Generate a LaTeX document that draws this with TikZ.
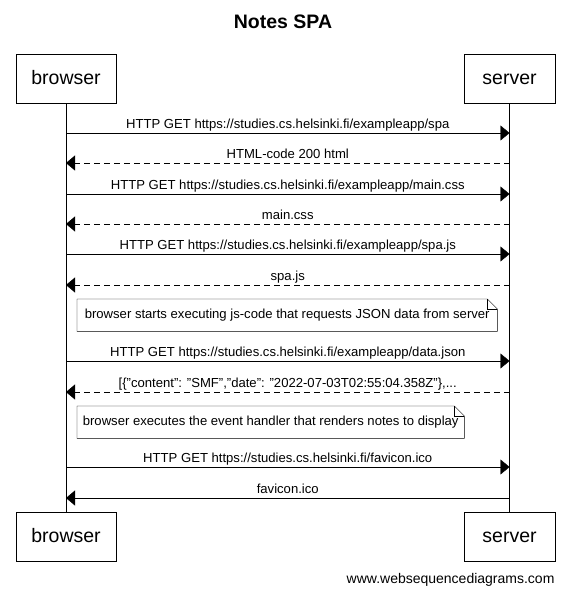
\documentclass[tikz,border=0pt]{standalone}
\usepackage{fontspec}
\setmainfont{Liberation Sans}
\usetikzlibrary{arrows.meta,positioning,calc}
\tikzset{
    x=1pt, y=-1pt, line width=0.8pt,
    actor/.style ={draw, minimum height=49pt, inner sep=0pt, text height=15pt, text depth=3pt, font=\fontsize{19.5}{22}\selectfont},
    msg/.style = {-{Triangle[length=9pt,width=15pt]}},
    reply/.style = {msg, dash pattern=on 6pt off 4pt},
    lbl/.style = {above, inner sep=1pt, text depth=3pt, font=\fontsize{13.1}{15}\selectfont},
    notebox/.style = {anchor=north west, minimum height=32pt, inner xsep=5pt, font=\fontsize{13.1}{15}\selectfont}
}
\newcommand\dogear[1]{%
  \draw (#1.south west) -- (#1.north west) -- ([xshift=-10pt]#1.north east)
        -- ([yshift=-10pt]#1.north east) -- (#1.south east) -- cycle;
  \draw ([xshift=-10pt]#1.north east) |- ([yshift=-10pt]#1.north east);}

\begin{document}
\begin{tikzpicture}
    \useasboundingbox (0,0) rectangle (566,595);
    \node[font=\bfseries\fontsize{19.5}{22}\selectfont] (title) at (283,22) {Notes SPA};

    % participants
    \node[actor, minimum width=100pt] (bt) at (66,78.5) {browser};
    \node[actor, minimum width=91pt] (st) at (509.5,78.5) {server};
    \node[actor, minimum width=100pt] (bb) at (66,536.5) {browser};
    \node[actor, minimum width=91pt] (sb) at (509.5,536.5) {server};

    % lifelines
    \draw (bt) -- (bb);
    \draw (st) -- (sb);

    % messages
    \draw[msg] (bt |- 0,133) -- node[lbl] {HTTP GET https://studies.cs.helsinki.fi/exampleapp/spa} (st |- 0,133);
    \draw[reply] (st |- 0,163) -- node[lbl] {HTML-code 200 html} (bt |- 0,163);
    \draw[msg] (bt |- 0,194) -- node[lbl] {HTTP GET https://studies.cs.helsinki.fi/exampleapp/main.css} (st |- 0,194);
    \draw[reply] (st |- 0,224) -- node[lbl] {main.css} (bt |- 0,224);
    \draw[msg] (bt |- 0,254) -- node[lbl] {HTTP GET https://studies.cs.helsinki.fi/exampleapp/spa.js} (st |- 0,254);
    \draw[reply] (st |- 0,285) -- node[lbl] {spa.js} (bt |- 0,285);

    \node[notebox, minimum width=420pt] (n1) at (77,299) {browser starts executing js-code that requests JSON data from server};
    \dogear{n1}

    \draw[msg] (bt |- 0,361) -- node[lbl] {HTTP GET https://studies.cs.helsinki.fi/exampleapp/data.json} (st |- 0,361);
    \draw[reply] (st |- 0,392) -- node[lbl] {[\{"content": "SMF","date": "2022-07-03T02:55:04.358Z"\},...} (bt |- 0,392);

    \node[notebox, minimum width=387pt] (n2) at (77,406) {browser executes the event handler that renders notes to display};
    \dogear{n2}

    \draw[msg] (bt |- 0,467) -- node[lbl] {HTTP GET https://studies.cs.helsinki.fi/favicon.ico} (st |- 0,467);
    \draw[msg] (st |- 0,498) -- node[lbl] {favicon.ico} (bt |- 0,498);

    \node[anchor=east, font=\fontsize{14}{16}\selectfont] (site) at (558,580) {www.websequencediagrams.com};
\end{tikzpicture}
\end{document}
